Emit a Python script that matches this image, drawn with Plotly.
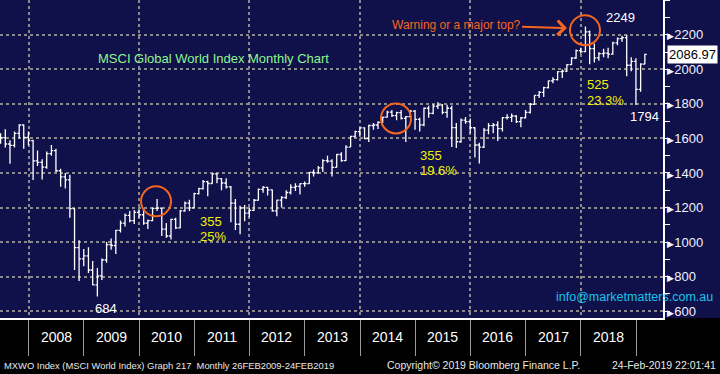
import plotly.graph_objects as go
import pandas as pd

# Monthly OHLC of MSCI World Index, Jun 2007 - Feb 2019 (bars plotted at month end)
open_ = [1600, 1605, 1568, 1560, 1630, 1678, 1606,
         1588, 1470, 1462, 1434, 1512, 1530, 1413, 1378, 1360, 1193, 968, 902,
         920, 838, 752, 804, 896, 985, 980, 1067, 1110, 1155, 1124, 1172,
         1158, 1110, 1124, 1195, 1196, 1075, 1035, 1131, 1082, 1181, 1225, 1198,
         1280, 1309, 1350, 1339, 1395, 1367, 1342, 1319, 1225, 1103, 1198, 1167,
         1183, 1242, 1305, 1317, 1302, 1180, 1243, 1258, 1287, 1317, 1322, 1338,
         1338, 1403, 1401, 1430, 1472, 1469, 1432, 1507, 1472, 1550, 1612, 1639,
         1661, 1599, 1675, 1678, 1693, 1723, 1753, 1732, 1750, 1716, 1726, 1758,
         1710, 1679, 1775, 1745, 1787, 1793, 1751, 1775, 1663, 1581, 1706, 1697,
         1662, 1562, 1550, 1648, 1674, 1678, 1657, 1721, 1722, 1730, 1697, 1720,
         1751, 1798, 1849, 1867, 1895, 1933, 1941, 1987, 1990, 2028, 2066, 2109,
         2103, 2217, 2120, 2067, 2091, 2094, 2089, 2154, 2178, 2184, 2024, 2047,
         1884, 2031]
high = [1630, 1654, 1590, 1640, 1682, 1681, 1640,
        1592, 1530, 1480, 1525, 1562, 1540, 1425, 1400, 1390, 1195, 1010, 960,
        970, 890, 850, 905, 1000, 1020, 1070, 1125, 1165, 1180, 1185, 1190,
        1190, 1130, 1200, 1250, 1200, 1110, 1135, 1140, 1185, 1235, 1245, 1285,
        1315, 1360, 1355, 1400, 1400, 1370, 1370, 1325, 1250, 1210, 1215, 1200,
        1250, 1310, 1325, 1320, 1305, 1245, 1265, 1300, 1335, 1340, 1340, 1350,
        1405, 1420, 1440, 1480, 1500, 1480, 1510, 1520, 1560, 1615, 1645, 1665,
        1665, 1680, 1690, 1700, 1725, 1760, 1765, 1755, 1765, 1730, 1765, 1765,
        1720, 1780, 1790, 1800, 1810, 1800, 1795, 1790, 1690, 1715, 1725, 1715,
        1665, 1575, 1660, 1690, 1690, 1700, 1725, 1740, 1745, 1735, 1725, 1765,
        1805, 1850, 1875, 1900, 1935, 1955, 1990, 2000, 2030, 2070, 2115, 2125,
        2249, 2225, 2150, 2100, 2120, 2125, 2160, 2185, 2195, 2200, 2070, 2065,
        2035, 2090]
low = [1570, 1548, 1453, 1548, 1600, 1540, 1560,
       1360, 1440, 1362, 1425, 1500, 1405, 1320, 1310, 1140, 838, 775, 860,
       820, 750, 684, 780, 880, 955, 930, 1055, 1090, 1115, 1105, 1140,
       1100, 1075, 1120, 1180, 1035, 1025, 1015, 1075, 1080, 1175, 1180, 1198,
       1275, 1305, 1265, 1338, 1340, 1300, 1310, 1115, 1070, 1045, 1120, 1145,
       1180, 1240, 1285, 1270, 1175, 1150, 1200, 1250, 1275, 1295, 1275, 1320,
       1338, 1380, 1395, 1405, 1460, 1380, 1432, 1465, 1470, 1550, 1605, 1610,
       1595, 1580, 1650, 1655, 1690, 1720, 1725, 1705, 1710, 1580, 1720, 1650,
       1640, 1670, 1720, 1740, 1770, 1740, 1720, 1550, 1545, 1575, 1685, 1630,
       1490, 1455, 1545, 1625, 1630, 1585, 1640, 1710, 1695, 1690, 1665, 1715,
       1745, 1795, 1835, 1840, 1890, 1920, 1935, 1950, 1985, 2025, 2060, 2090,
       2100, 2030, 2040, 2050, 2070, 2065, 2085, 2140, 2160, 1960, 1990, 1794,
       1870, 2030]
close = [1605, 1568, 1560, 1630, 1678, 1606, 1588,
         1470, 1462, 1434, 1512, 1530, 1413, 1378, 1360, 1193, 968, 902, 920,
         838, 752, 804, 896, 985, 980, 1067, 1110, 1155, 1124, 1172, 1158,
         1110, 1124, 1195, 1196, 1075, 1035, 1131, 1082, 1181, 1225, 1198, 1280,
         1309, 1350, 1339, 1395, 1367, 1342, 1319, 1225, 1103, 1198, 1167, 1183,
         1242, 1305, 1317, 1302, 1180, 1243, 1258, 1287, 1317, 1322, 1338, 1338,
         1403, 1401, 1430, 1472, 1469, 1432, 1507, 1472, 1550, 1612, 1639, 1661,
         1599, 1675, 1678, 1693, 1723, 1753, 1732, 1750, 1716, 1726, 1758, 1710,
         1679, 1775, 1745, 1787, 1793, 1751, 1775, 1663, 1581, 1706, 1697, 1662,
         1562, 1550, 1648, 1674, 1678, 1657, 1721, 1722, 1730, 1697, 1720, 1751,
         1798, 1849, 1867, 1895, 1933, 1941, 1987, 1990, 2028, 2066, 2109, 2103,
         2217, 2120, 2067, 2091, 2094, 2089, 2154, 2178, 2184, 2024, 2047, 1884,
         2031, 2087]

years = [2008, 2009, 2010, 2011, 2012, 2013, 2014, 2015, 2016, 2017, 2018]
y_ticks = [600, 800, 1000, 1200, 1400, 1600, 1800, 2000, 2200]
last_value = 2086.97

dates = pd.date_range("2007-06-01", periods=len(close), freq="MS") + pd.offsets.MonthEnd(0)

NAVY = "#10104a"
ORANGE = "#f5661e"
YELLOW = "#f0f000"
FONT = "Liberation Sans, Arial, sans-serif"
NARROW = "Liberation Sans Narrow, Arial Narrow, Liberation Sans, sans-serif"

fig = go.Figure()
fig.add_trace(go.Ohlc(
    x=dates, open=open_, high=high, low=low, close=close,
    increasing=dict(line=dict(color="white", width=1.3)),
    decreasing=dict(line=dict(color="white", width=1.3)),
    tickwidth=0.45, hoverinfo="skip", showlegend=False,
))

grid_years = [f"{y}-01-01" for y in years[::2]]
sep_years = [f"{y}-01-01" for y in years + [years[-1] + 1]]

fig.update_layout(
    width=720, height=374,
    margin=dict(l=0, r=57, t=0, b=56, autoexpand=False),
    paper_bgcolor=NAVY, plot_bgcolor=NAVY,
    font=dict(family=FONT, color="white"),
    showlegend=False,
    xaxis=dict(
        type="date", range=["2007-06-26", "2019-06-28"],
        rangeslider=dict(visible=False),
        tickvals=grid_years, showticklabels=False,
        ticks="outside", ticklen=36, tickcolor="#9a9a9a", tickwidth=1,
        showgrid=True, gridcolor="#8a8a8a", griddash="dot", gridwidth=2,
        minor=dict(tickvals=sep_years, ticks="outside", ticklen=36,
                   tickcolor="#9a9a9a", tickwidth=1, showgrid=False),
        showline=True, linecolor="white", linewidth=1.5,
        zeroline=False, fixedrange=True,
    ),
    yaxis=dict(
        side="right", range=[560, 2402],
        tickvals=y_ticks,
        ticktext=['<span style="font-size:9px">\u25B6</span>' + str(v) for v in y_ticks],
        ticks="", tickfont=dict(family=FONT, size=13, color="#f2f2ff"),
        showgrid=True, gridcolor="#8a8a8a", griddash="dot", gridwidth=2,
        minor=dict(dtick=100, ticks="outside", ticklen=5, tickcolor="white",
                   tickwidth=1, showgrid=False),
        showline=True, linecolor="white", linewidth=1.5,
        zeroline=False, fixedrange=True,
    ),
)

# black band under the plot for years and footer
fig.add_shape(type="rect", xref="paper", yref="paper", x0=-0.01, x1=1.1,
              y0=-0.2, y1=0, fillcolor="black", line=dict(width=0), layer="below")

# orange circles
for cx, cy in [("2010-04-23", 1236), ("2014-08-27", 1716), ("2018-01-28", 2227)]:
    fig.add_shape(type="circle", xref="x", yref="y", xsizemode="pixel", ysizemode="pixel",
                  xanchor=cx, yanchor=cy, x0=-15, x1=15, y0=-15, y1=15,
                  line=dict(color=ORANGE, width=2))

ann = []
# year labels
for y in years:
    ann.append(dict(x=f"{y}-07-01", xref="x", y=0, yref="paper", yshift=-19,
                    text=str(y), showarrow=False, yanchor="middle",
                    font=dict(family=NARROW, size=14, color="white")))
# footer
footer = [
    (0.003, "left", "MXWO Index (MSCI World Index) Graph 217  Monthly 26FEB2009-24FEB2019", 9.4),
    (0.58, "left", "Copyright\u00a9 2019 Bloomberg Finance L.P.", 10.5),
    (1.083, "right", "24-Feb-2019 22:01:41", 10.5),
]
for fx, anc, txt_, fs in footer:
    ann.append(dict(x=fx, xref="paper", y=0, yref="paper", yshift=-47, text=txt_,
                    showarrow=False, xanchor=anc, yanchor="middle",
                    font=dict(family=NARROW, size=fs, color="#e8e8e8")))

def txt(x, y, s, color, size=13):
    ann.append(dict(x=x / 663, xref="paper", y=(318 - y) / 318, yref="paper",
                    text=s, showarrow=False, xanchor="left", yanchor="middle",
                    font=dict(family=FONT, size=size, color=color)))

txt(96, 59, "MSCI Global World Index Monthly Chart", "#8ef58e", 13)
txt(604, 18, "2249", "white", 13)
txt(585, 84, "525", YELLOW, 13)
txt(585, 100, "23.3%", YELLOW, 13)
txt(628, 116, "1794", "white", 13)
txt(418, 155, "355", YELLOW, 13)
txt(418, 170, "19.6%", YELLOW, 13)
txt(198, 221, "355", YELLOW, 13)
txt(198, 236, "25%", YELLOW, 13)
txt(93, 308, "684", "white", 13)
txt(554, 297, "info@marketmatters.com.au", "#18c4ec", 12.5)

ann.append(dict(x=567 / 663, xref="paper", y=(318 - 28) / 318, yref="paper",
                ax=-111, ay=-3, text="Warning or a major top?", showarrow=True,
                arrowhead=4, arrowsize=1.4, arrowwidth=2, arrowcolor=ORANGE,
                font=dict(family=FONT, size=12, color=ORANGE)))

ann.append(dict(x=1.0, xref="paper", y=last_value, yref="y", xshift=4,
                text=f"{last_value:.2f}", showarrow=False, xanchor="left", yanchor="middle",
                bgcolor="white", borderpad=1,
                font=dict(family=FONT, size=13, color="black")))

fig.update_layout(annotations=ann)
fig.write_html("out.html", config={"displayModeBar": False},
               post_script="document.body.style.margin='0';document.body.style.overflow='hidden';")
